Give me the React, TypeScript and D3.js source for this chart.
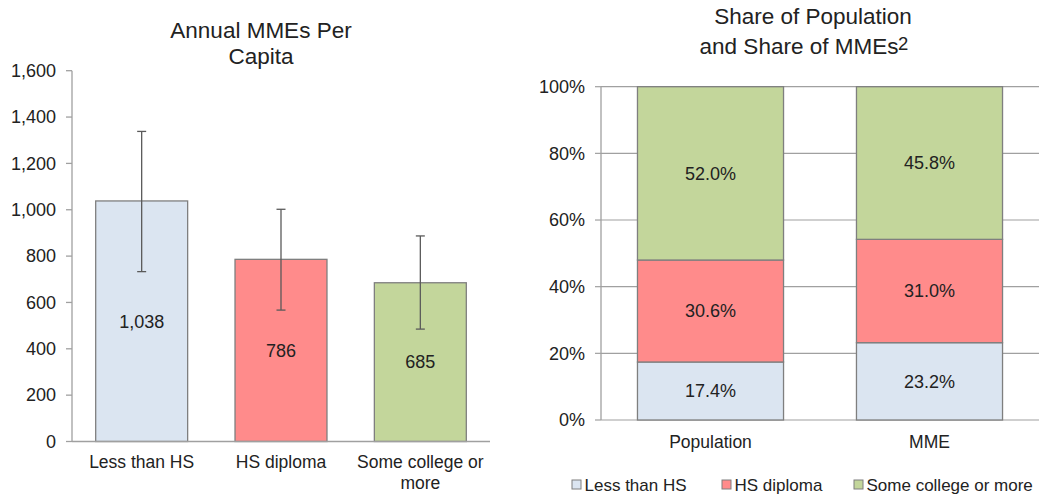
import React from "react";
import * as d3 from "d3";

const categories = ["Less than HS", "HS diploma", "Some college or more"];
const categoryLabelLines = [["Less than HS"], ["HS diploma"], ["Some college or", "more"]];
const mmePerCapita = [1038, 786, 685];
const errLow = [733, 567, 485];
const errHigh = [1338, 1002, 887];
const leftTicks = [0, 200, 400, 600, 800, 1000, 1200, 1400, 1600];

const shareGroups = ["Population", "MME"];
const shareLessHS = [17.4, 23.2];
const shareHSDiploma = [30.6, 31.0];
const shareSomeCollege = [52.0, 45.8];
const rightTicks = [0, 20, 40, 60, 80, 100];

const colors = ["#dbe5f1", "#ff8b8b", "#c3d69b"];
const FONT = "'Liberation Sans', Arial, sans-serif";
const TXT = "#222222";
const BAR_STROKE = "#7f7f7f";
const AXIS = "#a0a0a0";

export default function App() {
  const W = 1042, H = 495;
  // Left chart
  const xL = d3.scaleBand<string>().domain(categories).range([72, 490]).paddingInner(0.34).paddingOuter(0.17);
  const yL = d3.scaleLinear().domain([0, 1600]).range([441.5, 70.7]);
  const fmt = d3.format(",");

  // Right chart
  const xR = d3.scaleBand<string>().domain(shareGroups).range([601, 1039]).paddingInner(0.333).paddingOuter(0.1665);
  const yR = d3.scaleLinear().domain([0, 100]).range([420, 86.7]);
  const series = [shareLessHS, shareHSDiploma, shareSomeCollege];
  const stackData = shareGroups.map((g, i) => {
    const o: any = { group: g };
    series.forEach((s, k) => (o["s" + k] = s[i]));
    return o;
  });
  const stacked = d3.stack<any>().keys(["s0", "s1", "s2"])(stackData);

  return (
    <svg width={W} height={H} style={{ display: "block", position: "absolute", left: 0, top: 0 }} fontFamily={FONT}>
      <rect x={0} y={0} width={W} height={H} fill="#ffffff" />
      {/* Left title */}
      <text x={261} y={37.5} textAnchor="middle" fontSize={22.5} fill={TXT}>Annual MMEs Per</text>
      <text x={261} y={63.5} textAnchor="middle" fontSize={22.5} fill={TXT}>Capita</text>

      {/* Left axis */}
      <line x1={72} x2={72} y1={yL(1600)} y2={yL(0)} stroke={AXIS} strokeWidth={1.3} />
      {leftTicks.map((t) => (
        <g key={t}>
          <line x1={66} x2={72} y1={yL(t)} y2={yL(t)} stroke={AXIS} strokeWidth={1.3} />
          <text x={56} y={yL(t)} dy="0.35em" textAnchor="end" fontSize={18} fill={TXT}>{fmt(t)}</text>
        </g>
      ))}
      {categories.map((c, i) => {
        const x = xL(c)!;
        const bw = xL.bandwidth();
        const cx = x + bw / 2;
        return (
          <g key={c}>
            <rect x={x} y={yL(mmePerCapita[i])} width={bw} height={yL(0) - yL(mmePerCapita[i])} fill={colors[i]} stroke={BAR_STROKE} strokeWidth={1.3} />
            <text x={cx} y={(yL(mmePerCapita[i]) + yL(0)) / 2} dy="0.35em" textAnchor="middle" fontSize={18} fill={TXT}>{fmt(mmePerCapita[i])}</text>
            <line x1={cx} x2={cx} y1={yL(errHigh[i])} y2={yL(errLow[i])} stroke="#5a5a5a" strokeWidth={1.3} />
            <line x1={cx - 4.5} x2={cx + 4.5} y1={yL(errHigh[i])} y2={yL(errHigh[i])} stroke="#5a5a5a" strokeWidth={1.3} />
            <line x1={cx - 4.5} x2={cx + 4.5} y1={yL(errLow[i])} y2={yL(errLow[i])} stroke="#5a5a5a" strokeWidth={1.3} />
            {categoryLabelLines[i].map((ln, j) => (
              <text key={j} x={cx} y={468 + j * 21} textAnchor="middle" fontSize={17.5} fill={TXT}>{ln}</text>
            ))}
          </g>
        );
      })}
      <line x1={72} x2={490} y1={yL(0)} y2={yL(0)} stroke={AXIS} strokeWidth={1.3} />

      {/* Right title */}
      <text x={813} y={24} textAnchor="middle" fontSize={22.5} fill={TXT}>Share of Population</text>
      <text x={799} y={53.5} textAnchor="middle" fontSize={22.5} fill={TXT}>
        and Share of MMEs
      </text>
      <text x={898} y={50} textAnchor="start" fontSize={18.5} fill={TXT}>2</text>

      {/* Right gridlines & axis */}
      {rightTicks.map((t) => (
        <g key={t}>
          <line x1={601} x2={1039} y1={yR(t)} y2={yR(t)} stroke={AXIS} strokeWidth={1.2} />
          <line x1={595} x2={601} y1={yR(t)} y2={yR(t)} stroke={AXIS} strokeWidth={1.2} />
          <text x={585} y={yR(t)} dy="0.35em" textAnchor="end" fontSize={18} fill={TXT}>{t}%</text>
        </g>
      ))}
      <line x1={601} x2={601} y1={yR(100)} y2={yR(0)} stroke={AXIS} strokeWidth={1.3} />
      {stacked.map((layer, k) => (
        <g key={k}>
          {layer.map((d, i) => {
            const g = shareGroups[i];
            const x = xR(g)!;
            const bw = xR.bandwidth();
            return (
              <g key={g}>
                <rect x={x} y={yR(d[1])} width={bw} height={yR(d[0]) - yR(d[1])} fill={colors[k]} stroke={BAR_STROKE} strokeWidth={1.3} />
                <text x={x + bw / 2} y={(yR(d[0]) + yR(d[1])) / 2} dy="0.35em" textAnchor="middle" fontSize={18} fill={TXT}>
                  {series[k][i].toFixed(1)}%
                </text>
              </g>
            );
          })}
        </g>
      ))}
      {shareGroups.map((g) => (
        <text key={g} x={xR(g)! + xR.bandwidth() / 2} y={448} textAnchor="middle" fontSize={17.5} fill={TXT}>{g}</text>
      ))}

      {/* Legend */}
      {[{ x: 572, label: categories[0] }, { x: 722, label: categories[1] }, { x: 854, label: "Some college or more" }].map((l, i) => (
        <g key={i}>
          <rect x={l.x} y={480} width={9} height={9} fill={colors[i]} stroke={BAR_STROKE} strokeWidth={1} />
          <text x={l.x + 12.5} y={491} fontSize={17} fill={TXT}>{l.label}</text>
        </g>
      ))}
    </svg>
  );
}
